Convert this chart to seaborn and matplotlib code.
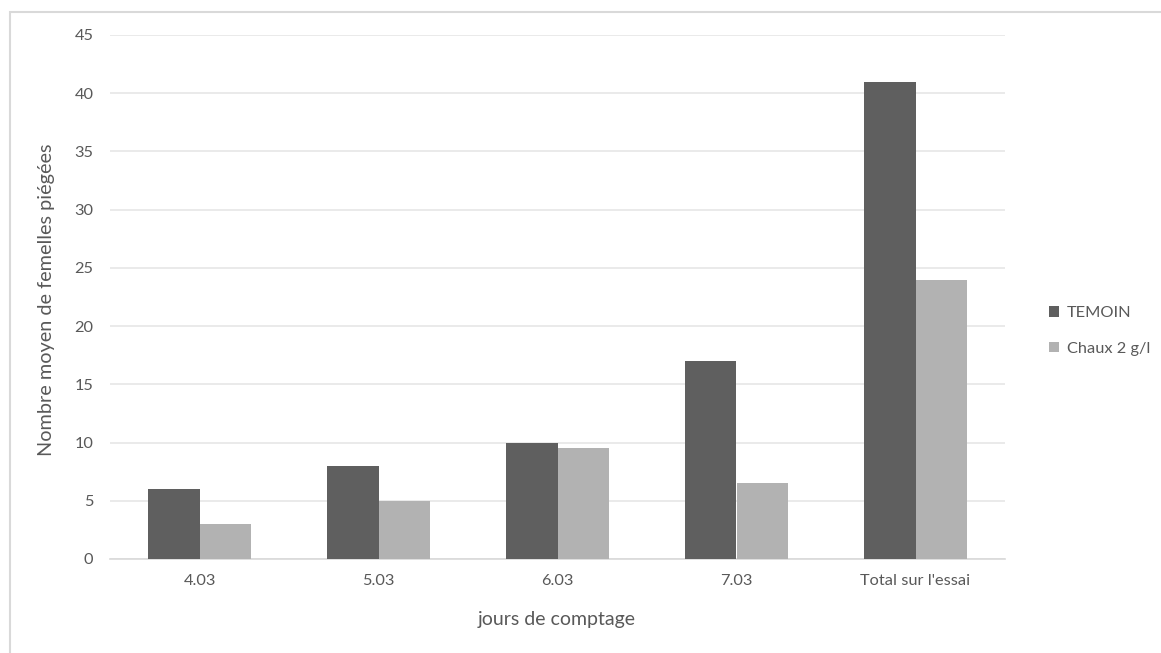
import matplotlib
matplotlib.use("Agg")
import matplotlib.pyplot as plt
from matplotlib.patches import Rectangle
import pandas as pd
import seaborn as sns

# Counting days and mean number of trapped females per treatment
jours = ["4.03", "5.03", "6.03", "7.03", "Total sur l'essai"]
temoin = [6, 8, 10, 17, 41]
chaux = [3, 5, 9.5, 6.5, 24]
series = ["TEMOIN", "Chaux 2 g/l"]
yticks = [0, 5, 10, 15, 20, 25, 30, 35, 40, 45]

df = pd.DataFrame({
    "jour": jours * 2,
    "valeur": temoin + chaux,
    "serie": [series[0]] * len(jours) + [series[1]] * len(jours),
})

sns.set_theme(style="white")
plt.rcParams["font.family"] = ["Lato", "DejaVu Sans"]

text_col = "#595959"
grid_col = "#e6e6e6"
colors = {"TEMOIN": "#5f5f5f", "Chaux 2 g/l": "#b2b2b2"}

W, H = 1161, 653
fig = plt.figure(figsize=(W / 100, H / 100), dpi=100)
ax = fig.add_axes([110 / W, 1 - 559 / H, (1005 - 110) / W, (559 - 35) / H])

sns.barplot(data=df, x="jour", y="valeur", hue="serie", order=jours,
            hue_order=series, palette=colors, width=0.57, gap=0,
            saturation=1, edgecolor="none", linewidth=0, ax=ax,
            legend=False, zorder=3)

ax.set_ylim(0, 45)
ax.set_xlim(-0.5, len(jours) - 0.5)
ax.set_yticks(yticks)
ax.yaxis.grid(True, color=grid_col, linewidth=1.2, zorder=0)
ax.set_axisbelow(True)
for s in ["left", "right", "top"]:
    ax.spines[s].set_visible(False)
ax.spines["bottom"].set_color("#d9d9d9")
ax.spines["bottom"].set_linewidth(1.2)
ax.tick_params(axis="both", length=0, labelsize=11.8, labelcolor=text_col)
ax.tick_params(axis="y", pad=12)
ax.tick_params(axis="x", pad=11)
ax.set_xlabel("")
ax.set_ylabel("")

# Axis titles
fig.text(557 / W, 1 - 620 / H, "jours de comptage", fontsize=14,
         color=text_col, ha="center", va="center")
fig.text(47 / W, 1 - 300 / H, "Nombre moyen de femelles piégées",
         fontsize=14.3, color=text_col, ha="center", va="center",
         rotation=90)

# Legend with square markers on the right
handles = [Rectangle((0, 0), 1, 1, facecolor=colors[s], edgecolor="none")
           for s in series]
fig.legend(handles, series, loc="center left",
           bbox_to_anchor=(1034 / W, 1 - 331 / H), frameon=False,
           fontsize=11.8, labelcolor=text_col, handlelength=0.6,
           handleheight=0.6, handletextpad=0.5, labelspacing=1.3)

# Outer chart frame
fig.patches.append(Rectangle((10 / W, -0.05), 1.2, 1 - 12 / H + 0.05,
                             transform=fig.transFigure, fill=False,
                             edgecolor="#d9d9d9", linewidth=1.5))

fig.savefig("out.png", dpi=100, facecolor="white")
